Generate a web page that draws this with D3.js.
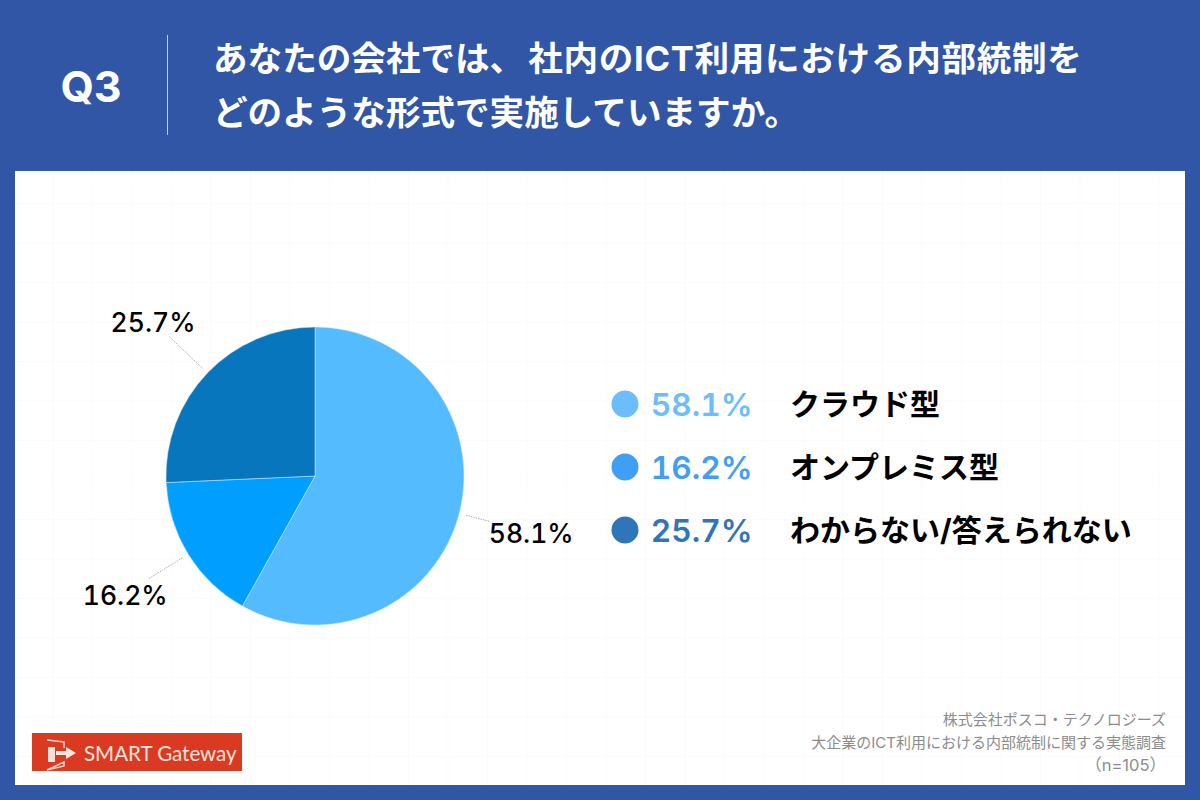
<!DOCTYPE html>
<html lang="ja">
<head>
<meta charset="utf-8">
<script src="https://cdn.jsdelivr.net/npm/d3@7"></script>
<style>
html, body { margin: 0; padding: 0; background: #3156a5; }
svg { display: block; }
text { font-family: Inter, "Noto Sans CJK JP", sans-serif; }
</style>
</head>
<body>
<div id="chart"></div>
<script>
// data
var categories = ["クラウド型", "オンプレミス型", "わからない/答えられない"];
var values = [58.1, 16.2, 25.7];
var sliceColors = ["#55bbff", "#009fff", "#0776bd"];
var legendColors = ["#6cbdfb", "#409ef5", "#2f75b9"];
var titleLines = [["あなたの会社では、", "社内のICT利用における内部統制を"], ["どのような形式で実施していますか。"]];
var sourceLines = ["株式会社ポスコ・テクノロジーズ", "大企業のICT利用における内部統制に関する実態調査", "（n=105）"];

var w = 1200;
var h = 800;

var svg = d3.select("#chart").append("svg")
    .attr("width", w)
    .attr("height", h);

svg.append("rect").attr("width", w).attr("height", h).attr("fill", "#3156a5");

// white panel with faint grid
svg.append("rect")
    .attr("x", 15).attr("y", 171)
    .attr("width", 1170).attr("height", 614)
    .attr("fill", "#fff");

var gridX = d3.range(53, 1185, 39.5);
var gridY = d3.range(203.5, 785, 39.5);
svg.append("g").selectAll("line").data(gridX).enter().append("line")
    .attr("x1", function (d) { return d; }).attr("x2", function (d) { return d; })
    .attr("y1", 171).attr("y2", 785)
    .attr("stroke", "#fbfbfb");
svg.append("g").selectAll("line").data(gridY).enter().append("line")
    .attr("y1", function (d) { return d; }).attr("y2", function (d) { return d; })
    .attr("x1", 15).attr("x2", 1185)
    .attr("stroke", "#fbfbfb");

// header
svg.append("text")
    .attr("x", 91).attr("y", 102)
    .attr("text-anchor", "middle")
    .attr("font-size", 43).attr("font-weight", 700)
    .attr("fill", "#fff")
    .text("Q3");

svg.append("line")
    .attr("x1", 167.5).attr("x2", 167.5)
    .attr("y1", 35).attr("y2", 135)
    .attr("stroke", "#c5d0e6");

var title = svg.append("g").selectAll("text").data(titleLines).enter().append("text")
    .attr("x", 213)
    .attr("y", function (d, i) { return 71 + i * 54; })
    .attr("font-size", 34.6).attr("font-weight", 700)
    .attr("fill", "#fff");

// the gap after the 、 is a bit wider in the original
title.selectAll("tspan").data(function (d) { return d; }).enter().append("tspan")
    .attr("dx", function (d, i) { return i == 1 ? 4 : 0; })
    .attr("letter-spacing", function (d, i) { return i == 1 ? 0.7 : 0; })
    .text(function (d) { return d; });

// pie
var cx = 315, cy = 476, r = 149;
var pieG = svg.append("g").attr("transform", "translate(" + cx + "," + cy + ")");
var pie = d3.pie().sort(null).value(function (d) { return d; });
var arc = d3.arc().innerRadius(0).outerRadius(r);
var arcs = pie(values);

pieG.selectAll("path").data(arcs).enter().append("path")
    .attr("d", arc)
    .attr("fill", function (d, i) { return sliceColors[i]; })
    .attr("stroke", "#d5eeff")
    .attr("stroke-width", 0.5);

// leader lines and value labels
var leaderEnd = [180, 196, 202];
var labelOffset = [[42, 12], [-23, 16], [-16, -14]];

function polar(d, radius) {
    var a = (d.startAngle + d.endAngle) / 2;
    return [Math.sin(a) * radius, -Math.cos(a) * radius];
}

pieG.selectAll("line.leader").data(arcs).enter().append("line")
    .attr("class", "leader")
    .attr("x1", function (d) { return polar(d, 156)[0]; })
    .attr("y1", function (d) { return polar(d, 156)[1]; })
    .attr("x2", function (d, i) { return polar(d, leaderEnd[i])[0]; })
    .attr("y2", function (d, i) { return polar(d, leaderEnd[i])[1]; })
    .attr("stroke", "#999")
    .attr("stroke-width", 0.8)
    .attr("stroke-dasharray", "1.5 1");

pieG.selectAll("text.val").data(arcs).enter().append("text")
    .attr("class", "val")
    .attr("x", function (d, i) { return polar(d, leaderEnd[i])[0] + labelOffset[i][0]; })
    .attr("y", function (d, i) { return polar(d, leaderEnd[i])[1] + labelOffset[i][1] + 10; })
    .attr("text-anchor", "middle")
    .attr("font-size", 26.5)
    .attr("font-weight", 500)
    .style("font-variant-numeric", "tabular-nums")
    .attr("fill", "#000")
    .text(function (d) { return d.data.toFixed(1) + "%"; });

// legend
var legendY = d3.scalePoint().domain(categories).range([404, 530]);

var legend = svg.append("g").selectAll("g").data(categories).enter().append("g")
    .attr("transform", function (d) { return "translate(0," + legendY(d) + ")"; });

legend.append("circle")
    .attr("cx", 625).attr("cy", 0).attr("r", 13.5)
    .attr("fill", function (d, i) { return legendColors[i]; });

legend.append("text")
    .attr("x", 752.5).attr("y", 12)
    .attr("text-anchor", "end")
    .attr("font-size", 31.7).attr("font-weight", 600)
    .style("font-variant-numeric", "tabular-nums")
    .attr("fill", function (d, i) { return legendColors[i]; })
    .text(function (d, i) { return values[i].toFixed(1) + "%"; });

legend.append("text")
    .attr("x", 790).attr("y", 11)
    .attr("font-size", 30).attr("font-weight", 700)
    .attr("fill", "#000")
    .text(function (d) { return d; });

// source note
svg.append("g").selectAll("text").data(sourceLines).enter().append("text")
    .attr("x", 1166)
    .attr("y", function (d, i) { return 725 + i * 23; })
    .attr("text-anchor", "end")
    .attr("font-size", function (d, i) { return i == 2 ? 16.5 : 15; })
    .attr("fill", "#8c8c8c")
    .text(function (d) { return d; });

// logo
var logo = svg.append("g");
logo.append("rect")
    .attr("x", 32).attr("y", 733)
    .attr("width", 210).attr("height", 38)
    .attr("fill", "#da3a22");
logo.append("path")
    .attr("d", "M47 740 L64 742 L64 748 M64 762 L64 766 L47 770 Z")
    .attr("fill", "none").attr("stroke", "#f6cfc6").attr("stroke-width", 1.5);
logo.append("rect")
    .attr("x", 48).attr("y", 747)
    .attr("width", 7).attr("height", 15)
    .attr("fill", "#f8ded8");
logo.append("path")
    .attr("d", "M56 751 H66 V747 L76 753 L66 759 V755 H56 Z")
    .attr("fill", "#fbe6e1");
logo.append("text")
    .attr("x", 84).attr("y", 761)
    .attr("font-size", 20.5)
    .style("font-family", "Lato, sans-serif")
    .attr("fill", "#fbe3dd")
    .text("SMART Gateway");
</script>
</body>
</html>
